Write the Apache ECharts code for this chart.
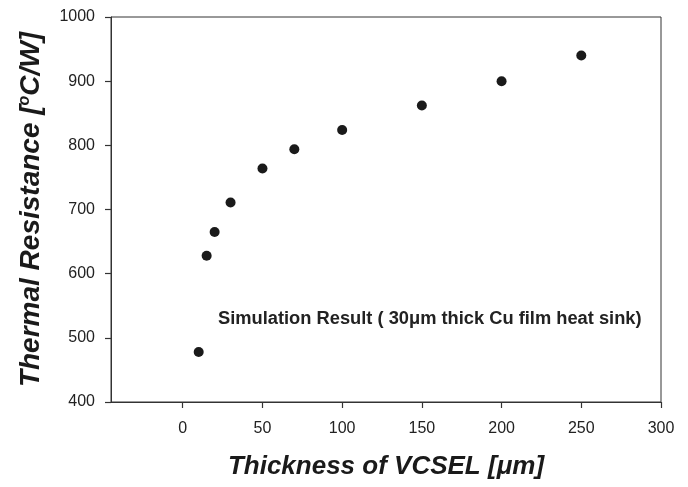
<!DOCTYPE html>
<html>
<head>
<meta charset="utf-8">
<script src="https://cdn.jsdelivr.net/npm/echarts@6/dist/echarts.min.js"></script>
<style>
  html, body { margin: 0; padding: 0; background: #fff; }
  #main { width: 688px; height: 487px; }
</style>
</head>
<body>
<div id="main"></div>
<script>
// thickness of VCSEL (um) and simulated thermal resistance (oC/W)
var thickness = [10, 15, 20, 30, 50, 70, 100, 150, 200, 250];
var resistance = [478, 628, 665, 711, 764, 794, 824, 862, 900, 940];

var xTicks = [0, 50, 100, 150, 200, 250, 300];
var yTicks = [400, 500, 600, 700, 800, 900, 1000];

var chart = echarts.init(document.getElementById('main'));

var points = thickness.map(function (t, i) { return [t, resistance[i]]; });

var option = {
    animation: false,
    grid: {
        left: 111,
        right: 27,
        top: 17,
        bottom: 85,
        show: true,
        borderColor: '#333',
        borderWidth: 1
    },
    xAxis: {
        type: 'value',
        min: -45,
        max: 300,
        axisLabel: {
            fontFamily: 'Liberation Sans',
            fontSize: 16,
            color: '#222',
            margin: 19,
            customValues: xTicks
        },
        axisTick: {
            show: true,
            length: 6,
            lineStyle: { color: '#333', width: 1.2 },
            customValues: xTicks
        },
        axisLine: { show: true, onZero: false, lineStyle: { color: '#333', width: 1 } },
        splitLine: { show: false },
        name: 'Thickness of VCSEL [\u03bcm]',
        nameLocation: 'middle',
        nameGap: 52,
        nameTextStyle: {
            fontFamily: 'Liberation Sans',
            fontSize: 26,
            fontWeight: 'bold',
            fontStyle: 'italic',
            color: '#1a1a1a'
        }
    },
    yAxis: {
        type: 'value',
        min: 400,
        max: 1000,
        interval: 100,
        axisLabel: {
            fontFamily: 'Liberation Sans',
            fontSize: 16,
            color: '#222',
            margin: 16,
            formatter: function (v) { return String(v); }
        },
        axisTick: {
            show: true,
            length: 6,
            lineStyle: { color: '#333', width: 1.2 },
            customValues: yTicks
        },
        axisLine: { show: true, onZero: false, lineStyle: { color: '#333', width: 1 } },
        splitLine: { show: false },
        name: '{t|Thermal Resistance [}{s|o}{t|C/W]}',
        nameLocation: 'middle',
        nameGap: 66,
        nameTextStyle: {
            rich: {
                t: {
                    fontFamily: 'Liberation Sans',
                    fontSize: 28,
                    fontWeight: 'bold',
                    fontStyle: 'italic',
                    color: '#1a1a1a'
                },
                s: {
                    fontFamily: 'Liberation Sans',
                    fontSize: 16,
                    fontWeight: 'bold',
                    fontStyle: 'italic',
                    color: '#1a1a1a',
                    padding: [0, 0, 12, 0]
                }
            }
        }
    },
    graphic: [{
        type: 'text',
        left: 218,
        top: 310,
        style: {
            text: 'Simulation Result ( 30\u03bcm thick Cu film heat sink)',
            font: 'bold 18.3px "Liberation Sans"',
            fill: '#222'
        }
    }],
    series: [{
        type: 'scatter',
        data: points,
        symbol: 'circle',
        symbolSize: 10,
        itemStyle: { color: '#1a1a1a', opacity: 1 }
    }]
};

chart.setOption(option);
</script>
</body>
</html>
